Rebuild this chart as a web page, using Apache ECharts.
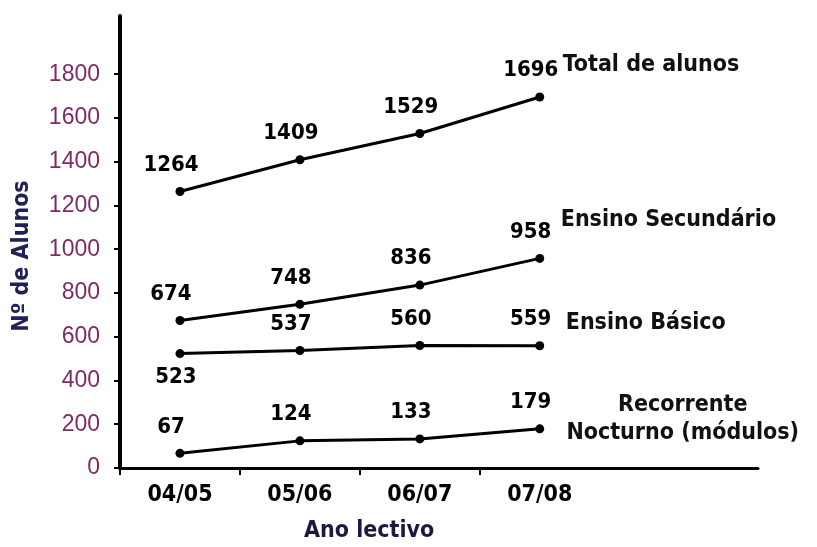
<!DOCTYPE html>
<html>
<head>
<meta charset="utf-8">
<script src="https://cdn.jsdelivr.net/npm/echarts@6/dist/echarts.min.js"></script>
<style>
  html, body { margin: 0; padding: 0; background: #fff; }
  #main { width: 817px; height: 547px; }
</style>
</head>
<body>
<div id="main"></div>
<script>
const years = ['04/05', '05/06', '06/07', '07/08'];
const total = [1264, 1409, 1529, 1696];
const secundario = [674, 748, 836, 958];
const basico = [523, 537, 560, 559];
const recorrente = [67, 124, 133, 179];
const yTicks = [0, 200, 400, 600, 800, 1000, 1200, 1400, 1600, 1800];

const narrow = "'Liberation Sans Narrow', 'DejaVu Sans Condensed', 'Arial Narrow', sans-serif";

const chart = echarts.init(document.getElementById('main'));

// name shown at the end of each line, with its own offset
const makeSeries = (name, values, endOffset, below) => ({
    name: name,
    type: 'line',
    data: values.map((v, i) => {
        const item = { value: [i + 0.5, v] };
        if (below && below.indexOf(i) >= 0) {
            item.label = { position: 'bottom', offset: [-4, 3] };
        }
        return item;
    }),
    symbol: 'circle',
    symbolSize: 9,
    itemStyle: { color: '#000' },
    lineStyle: { color: '#000', width: 3 },
    label: {
        show: true,
        position: 'top',
        offset: [-9, -6],
        formatter: p => p.value[1],
        color: '#000',
        fontFamily: narrow,
        fontWeight: 'bold',
        fontSize: 22
    },
    endLabel: {
        show: true,
        formatter: name,
        distance: 0,
        offset: endOffset,
        color: '#111',
        fontFamily: narrow,
        fontWeight: 'bold',
        fontSize: 23,
        lineHeight: 28
    },
    animation: false
});

const recSeries = makeSeries('Recorrente\nNocturno (módulos)', recorrente, [143, -10]);
recSeries.endLabel.align = 'center';

chart.setOption({
    backgroundColor: '#fff',
    title: {
        text: 'Ano lectivo',
        left: 304,
        top: 520,
        padding: 0,
        textStyle: { color: '#1a1a40', fontFamily: narrow, fontWeight: 'bold', fontSize: 23 }
    },
    grid: { left: 120, right: 59, top: 16, bottom: 79, outerBoundsMode: 'none' },
    xAxis: {
        type: 'value',
        min: 0,
        max: 5.32,
        splitLine: { show: false },
        axisLine: { onZero: false, lineStyle: { color: '#000', width: 3 } },
        axisTick: { show: true, customValues: [0, 1, 2, 3], length: 7, lineStyle: { color: '#000', width: 2 } },
        axisLabel: {
            customValues: [0.5, 1.5, 2.5, 3.5],
            formatter: v => years[Math.floor(v)],
            margin: 16,
            color: '#000',
            fontFamily: narrow,
            fontWeight: 'bold',
            fontSize: 23
        }
    },
    yAxis: {
        type: 'value',
        min: 0,
        max: 2066,
        name: 'Nº de Alunos',
        nameLocation: 'middle',
        nameRotate: 90,
        nameGap: 86,
        nameTextStyle: { color: '#22205a', fontFamily: narrow, fontWeight: 'bold', fontSize: 23, padding: [0, 28, 0, 0] },
        splitLine: { show: false },
        axisLine: { show: true, lineStyle: { color: '#000', width: 4 } },
        axisTick: { show: true, customValues: yTicks, length: 6, lineStyle: { color: '#000', width: 2 } },
        axisLabel: {
            customValues: yTicks,
            formatter: v => String(v),
            margin: 20,
            color: '#7e2a66',
            fontFamily: "'Liberation Sans', Arial, sans-serif",
            fontSize: 23
        }
    },
    series: [
        makeSeries('Total de alunos', total, [23, -32]),
        makeSeries('Ensino Secundário', secundario, [21, -38]),
        makeSeries('Ensino Básico', basico, [26, -23], [0]),
        recSeries
    ]
});
</script>
</body>
</html>
